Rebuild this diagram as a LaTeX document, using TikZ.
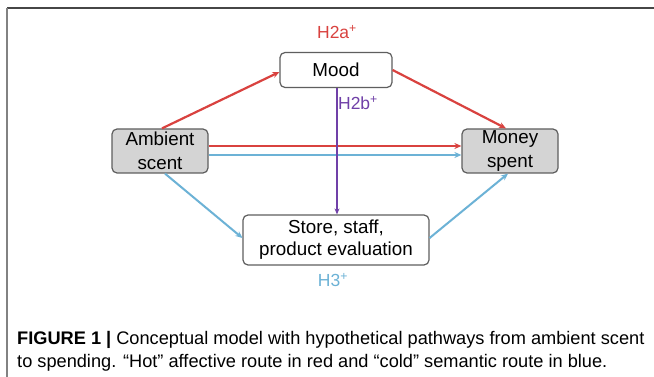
\documentclass[tikz,border=0pt]{standalone}
\usepackage{fontspec}
\setmainfont{Liberation Sans}
\usetikzlibrary{arrows.meta}
\definecolor{hotred}{RGB}{217,66,63}
\definecolor{coldblue}{RGB}{108,178,214}
\definecolor{purp}{RGB}{112,64,168}
\definecolor{boxgray}{RGB}{212,212,212}
\definecolor{edgegray}{RGB}{95,95,95}
\tikzset{
  box/.style={draw=edgegray, line width=1.2pt, rounded corners=5pt, fill=white,
    inner sep=0pt, align=center, font=\fontsize{18.8}{22}\selectfont},
  graybox/.style={box, fill=boxgray, font=\fontsize{18.8}{23.5}\selectfont},
  hot/.style={draw=hotred, line width=2.2pt, -{Stealth[length=7pt,width=6pt]}},
  cold/.style={draw=coldblue, line width=2pt, -{Stealth[length=7pt,width=6pt]}},
  med/.style={draw=purp, line width=1.4pt, -{Stealth[length=6pt,width=5pt]}},
  hyp/.style={font=\fontsize{17.5}{19}\selectfont, inner sep=0pt},
  captxt/.style={font=\fontsize{18.2}{22}\selectfont, inner sep=0pt, anchor=base west}
}
\begin{document}
\begin{tikzpicture}[x=1pt,y=-1pt]
\useasboundingbox (0,0) rectangle (654,377);
\fill[white] (0,0) rectangle (654,377);
% frame
\draw[line width=1.5pt, draw={rgb,255:red,70;green,70;blue,70}] (7,8) -- (654,8);
\draw[line width=1.5pt, draw={rgb,255:red,130;green,130;blue,130}] (7,8) -- (7,377);
% nodes
\node[graybox, minimum width=96pt, minimum height=44pt] (amb) at (160,151) {Ambient\\scent};
\node[graybox, minimum width=96pt, minimum height=44pt] (money) at (510,151) {Money\\spent};
\node[box, minimum width=112pt, minimum height=35pt] (mood) at (336,70) {Mood};
\node[box, minimum width=186pt, minimum height=50pt] (store) at (336,240) {Store, staff,\\product evaluation};
% labels
\node[hyp, text=hotred] (h2a) at (337,32) {H2a\textsuperscript{+}};
\node[hyp, text=purp] (h2b) at (358,103) {H2b\textsuperscript{+}};
\node[hyp, text=coldblue] (h3) at (333,280) {H3\textsuperscript{+}};
% connectors
\draw[hot] ([xshift=2pt]amb.north) -- ([yshift=-2pt]mood.west);
\draw[hot] (mood.east) -- ([xshift=-4pt]money.north);
\draw[hot] ([yshift=5pt]amb.east) -- ([yshift=5pt]money.west);
\draw[cold] ([yshift=-4pt]amb.east) -- ([yshift=-4pt]money.west);
\draw[cold] ([xshift=5pt]amb.south) -- ([yshift=2pt]store.west);
\draw[cold] ([yshift=2pt]store.east) -- ([xshift=-2pt]money.south);
\draw[med] ([xshift=1pt]mood.south) -- ([xshift=1pt]store.north);
% caption
\node[captxt] (cap1) at (17,344) {\textbf{FIGURE 1 |} Conceptual model with hypothetical pathways from ambient scent};
\node[captxt] (cap2) at (17,367) {to spending. “Hot” affective route in red and “cold” semantic route in blue.};
\end{tikzpicture}
\end{document}
